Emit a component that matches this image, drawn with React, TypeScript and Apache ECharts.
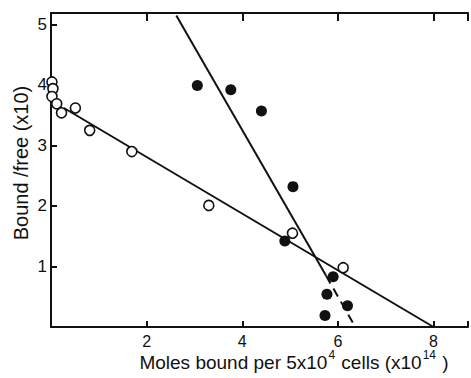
import React, { useEffect, useRef } from "react";
import * as echarts from "echarts";

const xTicks = [2, 4, 6, 8];
const yTicks = [1, 2, 3, 4, 5];

const openX = [0.02, 0.04, 0.02, 0.12, 0.22, 0.51, 0.81, 1.69, 3.3, 5.05, 6.11];
const openY = [4.05, 3.94, 3.81, 3.69, 3.54, 3.62, 3.25, 2.9, 2.01, 1.55, 0.98];

const filledX = [3.06, 3.76, 4.4, 5.06, 4.89, 5.9, 5.77, 6.2, 5.73];
const filledY = [3.99, 3.92, 3.57, 2.32, 1.42, 0.83, 0.54, 0.35, 0.19];

const openFitX = [0.27, 8.0];
const openFitY = [3.62, 0];

const steepSolidX = [2.62, 5.75];
const steepSolidY = [5.15, 0.85];
const steepDashX = [5.75, 6.35];
const steepDashY = [0.85, 0.02];

const xTitleParts = ["Moles bound per 5x10", "4", " cells (x10", "14", " )"];
const yTitle = "Bound /free (x10)";

const zip = (xs: number[], ys: number[]) => xs.map((x, i) => [x, ys[i]]);

export default function App() {
  const ref = useRef<HTMLDivElement>(null);
  useEffect(() => {
    document.body.style.margin = "0";
    const chart = echarts.init(ref.current!, null, { renderer: "svg" });
    const ink = "#111";
    const font = "Liberation Sans";
    const xFmt = (v: number) => (xTicks.includes(v) ? String(v) : "");
    const yFmt = (v: number) => (yTicks.includes(v) ? String(v) : "");
    const axisLine = { show: true, lineStyle: { color: ink, width: 2 } };
    const axisTick = { show: true, inside: true, length: 6, lineStyle: { color: ink, width: 2 } };
    chart.setOption({
      animation: false,
      backgroundColor: "#fff",
      grid: { left: 51, top: 13, right: 0, bottom: 51, containLabel: false },
      xAxis: [
        {
          type: "value",
          min: 0,
          max: 8.72,
          interval: 2,
          position: "bottom",
          axisLine,
          axisTick,
          splitLine: { show: false },
          axisLabel: { formatter: xFmt, color: ink, fontSize: 16, fontFamily: font, margin: 6 },
        },
        {
          type: "value",
          min: 0,
          max: 8.72,
          interval: 2,
          position: "top",
          axisLine,
          axisTick: { ...axisTick, length: 8 },
          splitLine: { show: false },
          axisLabel: { show: false },
        },
      ],
      yAxis: {
        type: "value",
        min: 0,
        max: 5.19,
        interval: 1,
        axisLine,
        axisTick,
        splitLine: { show: false },
        axisLabel: { formatter: yFmt, color: ink, fontSize: 17, fontFamily: font, margin: 4 },
      },
      graphic: [
        {
          type: "text",
          x: 294,
          y: 362,
          style: {
            text: `{a|${xTitleParts[0]}}{s|${xTitleParts[1]}}{a|${xTitleParts[2]}}{s|${xTitleParts[3]}}{a|${xTitleParts[4]}}`,
            align: "center",
            verticalAlign: "middle",
            fill: ink,
            rich: {
              a: { fontSize: 19, fontFamily: font, fill: ink },
              s: { fontSize: 12, fontFamily: font, fill: ink, padding: [0, 1, 14, 1] },
            },
          },
        },
        {
          type: "text",
          x: 21,
          y: 163,
          rotation: Math.PI / 2,
          style: {
            text: yTitle,
            align: "center",
            verticalAlign: "middle",
            fill: ink,
            fontSize: 20,
            fontFamily: font,
          },
        },
      ],
      series: [
        {
          type: "line",
          data: zip(openFitX, openFitY),
          symbol: "none",
          lineStyle: { color: ink, width: 2 },
          z: 1,
        },
        {
          type: "line",
          data: zip(steepSolidX, steepSolidY),
          symbol: "none",
          lineStyle: { color: ink, width: 2 },
          z: 1,
        },
        {
          type: "line",
          data: zip(steepDashX, steepDashY),
          symbol: "none",
          lineStyle: { color: ink, width: 2, type: [9, 6] },
          z: 1,
        },
        {
          type: "scatter",
          data: zip(openX, openY),
          symbol: "circle",
          symbolSize: 10,
          clip: false,
          itemStyle: { color: "#fff", borderColor: ink, borderWidth: 1.6, opacity: 1 },
          z: 3,
        },
        {
          type: "scatter",
          data: zip(filledX, filledY),
          symbol: "circle",
          symbolSize: 11,
          clip: false,
          itemStyle: { color: ink, opacity: 1 },
          z: 3,
        },
      ],
    });
    return () => chart.dispose();
  }, []);
  return <div ref={ref} style={{ width: 471, height: 378 }} />;
}
